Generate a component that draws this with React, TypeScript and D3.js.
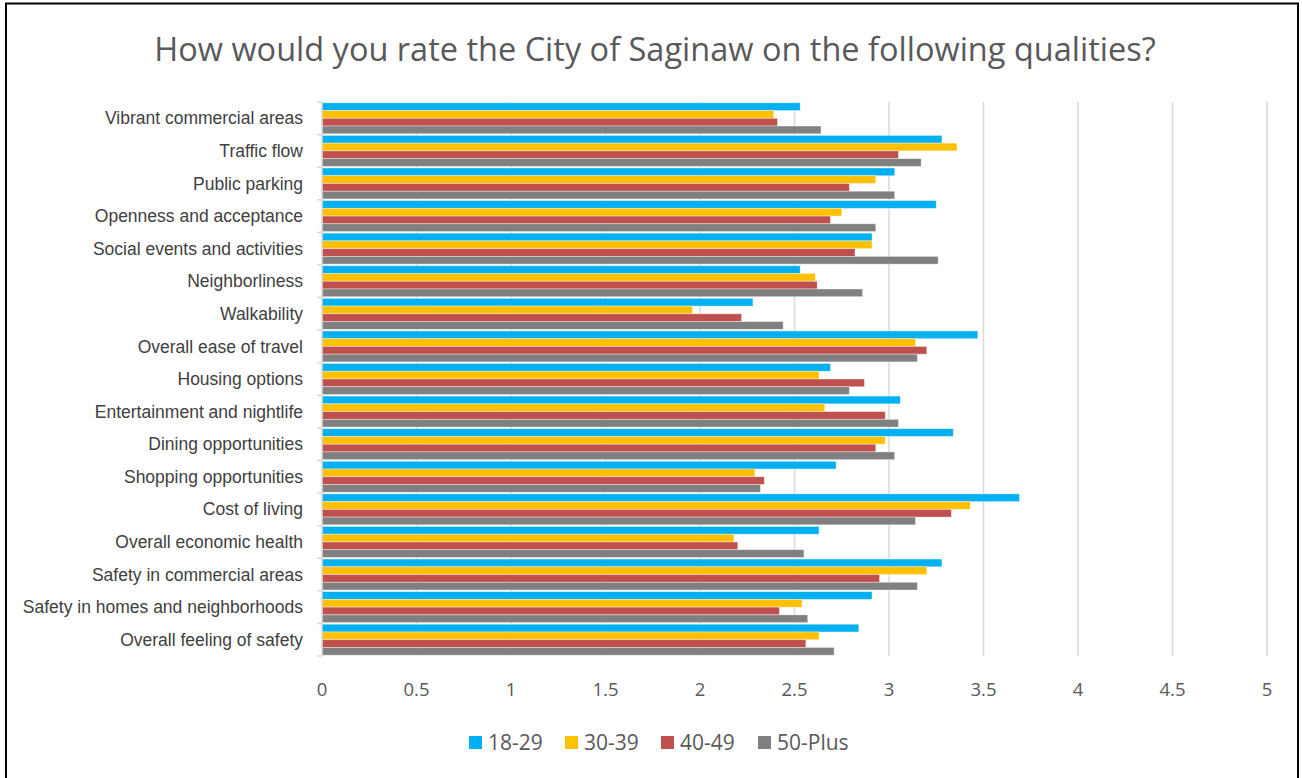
import React from "react";
import * as d3 from "d3";

const categories = [
  "Vibrant commercial areas",
  "Traffic flow",
  "Public parking",
  "Openness and acceptance",
  "Social events and activities",
  "Neighborliness",
  "Walkability",
  "Overall ease of travel",
  "Housing options",
  "Entertainment and nightlife",
  "Dining opportunities",
  "Shopping opportunities",
  "Cost of living",
  "Overall economic health",
  "Safety in commercial areas",
  "Safety in homes and neighborhoods",
  "Overall feeling of safety",
];

const seriesNames = ["18-29", "30-39", "40-49", "50-Plus"];
const seriesColors = ["#00B0F0", "#FFC000", "#C0504D", "#808080"];

const age18_29 = [2.53, 3.28, 3.03, 3.25, 2.91, 2.53, 2.28, 3.47, 2.69, 3.06, 3.34, 2.72, 3.69, 2.63, 3.28, 2.91, 2.84];
const age30_39 = [2.39, 3.36, 2.93, 2.75, 2.91, 2.61, 1.96, 3.14, 2.63, 2.66, 2.98, 2.29, 3.43, 2.18, 3.20, 2.54, 2.63];
const age40_49 = [2.41, 3.05, 2.79, 2.69, 2.82, 2.62, 2.22, 3.20, 2.87, 2.98, 2.93, 2.34, 3.33, 2.20, 2.95, 2.42, 2.56];
const age50Plus = [2.64, 3.17, 3.03, 2.93, 3.26, 2.86, 2.44, 3.15, 2.79, 3.05, 3.03, 2.32, 3.14, 2.55, 3.15, 2.57, 2.71];

const xTicks = [0, 0.5, 1, 1.5, 2, 2.5, 3, 3.5, 4, 4.5, 5];

const title = "How would you rate the City of Saginaw on the following qualities?";

export default function App() {
  const W = 1302;
  const H = 778;
  const left = 322;
  const right = 1267;
  const top = 102;
  const bottom = 656;

  const series = [age18_29, age30_39, age40_49, age50Plus];

  const x = d3.scaleLinear().domain([0, 5]).range([left, right]);
  const y = d3
    .scaleBand<string>()
    .domain(categories)
    .range([top, bottom])
    .paddingInner(0.05)
    .paddingOuter(0.025);
  const yInner = d3
    .scaleBand<string>()
    .domain(seriesNames)
    .range([0, y.bandwidth()])
    .padding(0);

  const step = (bottom - top) / categories.length;
  const boundaries = d3.range(categories.length + 1).map((i) => top + i * step);

  const legendX = [469, 565, 661, 758];

  return (
    <svg
      width={W}
      height={H}
      style={{ position: "fixed", left: 0, top: 0, background: "#fff" }}
    >
      <rect x={0} y={0} width={W} height={H} fill="#fff" />
      <rect x={6} y={3.5} width={1292} height={790} fill="none" stroke="#000" strokeWidth={2} />
      <text
        x={655}
        y={60.5}
        textAnchor="middle"
        fontFamily="'Open Sans', 'Noto Sans', sans-serif"
        fontSize={32.5}
        fill="#595959"
      >
        {title}
      </text>

      {/* gridlines */}
      {xTicks.slice(1).map((t) => (
        <line
          key={"g" + t}
          x1={x(t)}
          x2={x(t)}
          y1={top}
          y2={bottom}
          stroke="#D9D9D9"
          strokeWidth={1.5}
        />
      ))}

      {/* bars */}
      {categories.map((c, i) => (
        <g key={c} transform={`translate(0,${y(c)})`}>
          {series.map((s, j) => (
            <rect
              key={j}
              x={x(0)}
              y={yInner(seriesNames[j])}
              width={x(s[i]) - x(0)}
              height={yInner.bandwidth()}
              fill={seriesColors[j]}
              stroke="#ffffff"
              strokeOpacity={0.5}
              strokeWidth={0.75}
            />
          ))}
        </g>
      ))}

      {/* y axis line */}
      <line x1={x(0)} x2={x(0)} y1={top} y2={bottom} stroke="#D9D9D9" strokeWidth={1.5} />
      {boundaries.map((b, i) => (
        <line key={"t" + i} x1={x(0) - 5} x2={x(0)} y1={b} y2={b} stroke="#D9D9D9" strokeWidth={1.5} />
      ))}

      {/* category labels */}
      {categories.map((c) => (
        <text
          key={"l" + c}
          x={303}
          y={(y(c) as number) + y.bandwidth() / 2}
          dy="0.35em"
          textAnchor="end"
          fontFamily="'Liberation Sans', Arial, sans-serif"
          fontSize={17.5}
          fill="#404040"
        >
          {c}
        </text>
      ))}

      {/* x tick labels */}
      {xTicks.map((t) => (
        <text
          key={"x" + t}
          x={x(t)}
          y={696}
          textAnchor="middle"
          fontFamily="'Open Sans', 'Noto Sans', sans-serif"
          fontSize={18.5}
          fill="#595959"
        >
          {String(t)}
        </text>
      ))}

      {/* legend */}
      {seriesNames.map((n, j) => (
        <g key={"lg" + n}>
          <rect x={legendX[j]} y={736} width={13} height={13} fill={seriesColors[j]} />
          <text
            x={legendX[j] + 19}
            y={750}
            fontFamily="'Open Sans', 'Noto Sans', sans-serif"
            fontSize={21}
            fill="#595959"
          >
            {n}
          </text>
        </g>
      ))}
    </svg>
  );
}
